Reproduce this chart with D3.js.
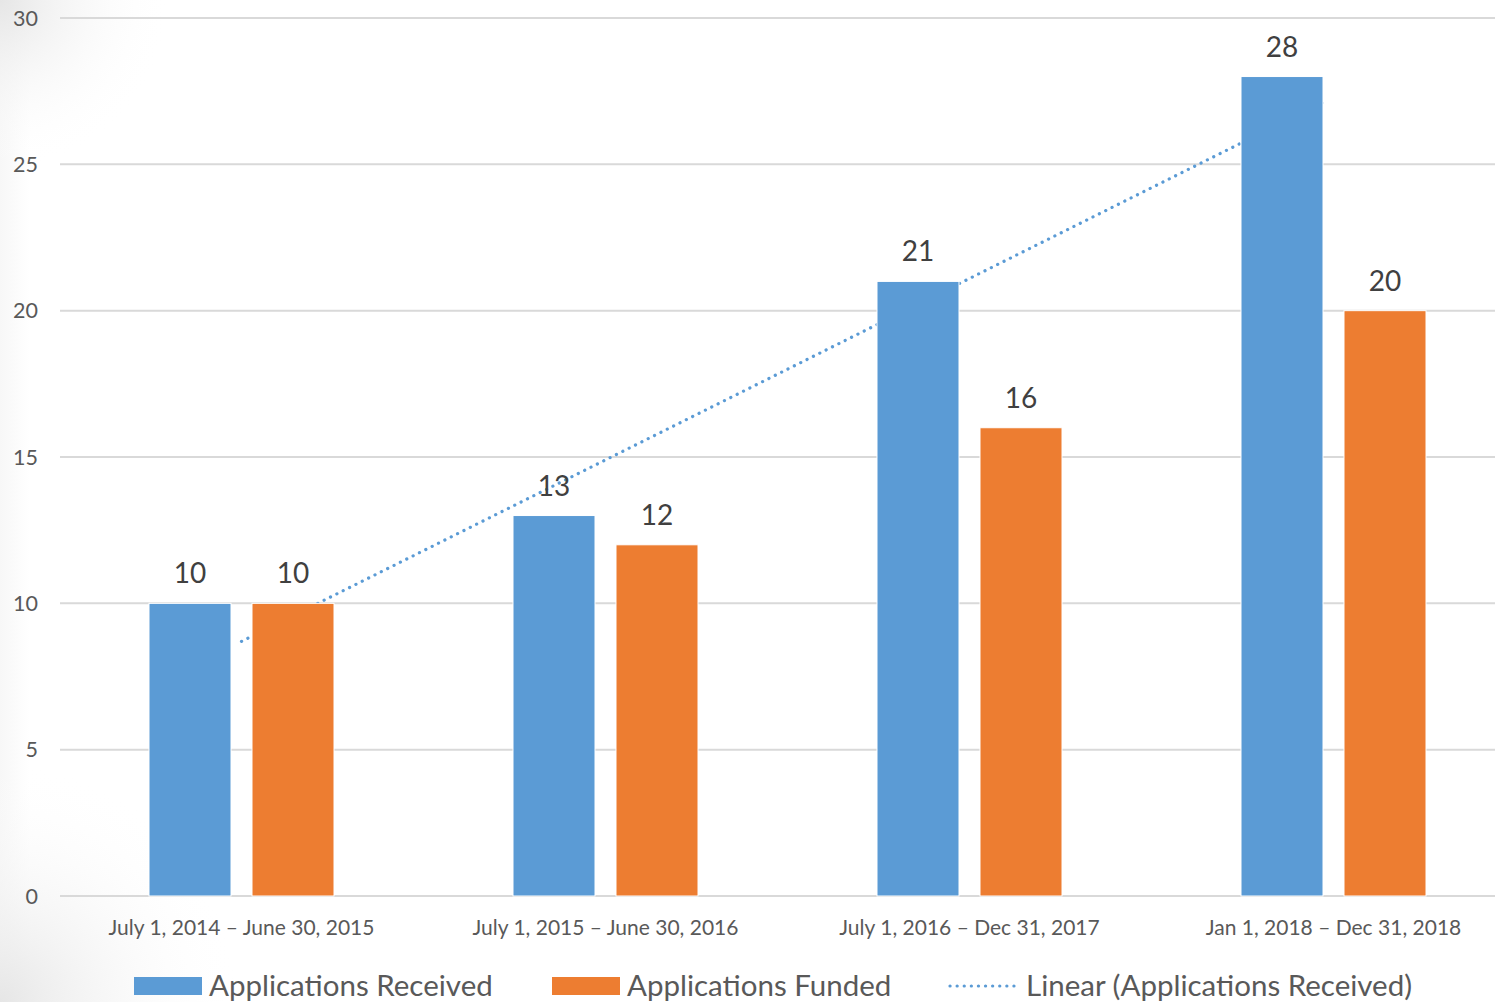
<!DOCTYPE html>
<html>
<head>
<meta charset="utf-8">
<script src="https://cdn.jsdelivr.net/npm/d3@7"></script>
<style>
  body { margin: 0; background: #fff; }
  svg { display: block; font-family: Lato, "Open Sans", sans-serif; }
</style>
</head>
<body>
<div id="chart"></div>
<script>
var categories = ["July 1, 2014 \u2013 June 30, 2015", "July 1, 2015 \u2013 June 30, 2016",
                  "July 1, 2016 \u2013 Dec 31, 2017", "Jan 1, 2018 \u2013 Dec 31, 2018"];
var received = [10, 13, 21, 28];
var funded = [10, 12, 16, 20];
var seriesNames = ["Applications Received", "Applications Funded"];
var yTicks = [0, 5, 10, 15, 20, 25, 30];

var W = 1495, H = 1002;
var margin = {top: 18, left: 59.5, bottom: 106};
var plotRight = 1515.5; // plot runs past the picture edge

var svg = d3.select("#chart").append("svg").attr("width", W).attr("height", H);

// faint grey shading in the left corners
var defs = svg.append("defs");
function corner(id, cy, r) {
  var g = defs.append("radialGradient").attr("id", id).attr("gradientUnits", "userSpaceOnUse")
      .attr("cx", 0).attr("cy", cy).attr("r", r);
  g.append("stop").attr("offset", "0").attr("stop-color", "#e6e6e6").attr("stop-opacity", 1);
  g.append("stop").attr("offset", "1").attr("stop-color", "#ffffff").attr("stop-opacity", 0);
}
corner("tl", 0, 170);
corner("bl", H, 240);
var edge = defs.append("linearGradient").attr("id", "edge");
edge.append("stop").attr("offset", "0").attr("stop-color", "#f7f7f7");
edge.append("stop").attr("offset", "0.02").attr("stop-color", "#ffffff");
svg.append("rect").attr("width", W).attr("height", H).attr("fill", "url(#edge)");
svg.append("rect").attr("width", W).attr("height", H).attr("fill", "url(#tl)");
svg.append("rect").attr("width", W).attr("height", H).attr("fill", "url(#bl)");

var x = d3.scaleBand().domain(d3.range(categories.length)).range([margin.left, plotRight]);
var y = d3.scaleLinear().domain([0, 30]).range([H - margin.bottom, margin.top]);

// gridlines
svg.append("g").selectAll("line").data(yTicks).enter().append("line")
    .attr("x1", 60).attr("x2", W)
    .attr("y1", function(d) { return y(d); }).attr("y2", function(d) { return y(d); })
    .attr("stroke", "#d9d9d9").attr("stroke-width", 2);

// y tick labels
svg.append("g").selectAll("text").data(yTicks).enter().append("text")
    .attr("x", 38).attr("y", function(d) { return y(d); })
    .attr("dy", "0.36em").attr("text-anchor", "end")
    .attr("font-size", 21.5).attr("fill", "#595959")
    .text(function(d) { return d; });

// linear trend of received (least squares over 1..n)
var xs = d3.range(1, received.length + 1);
var mx = d3.mean(xs), my = d3.mean(received);
var slope = d3.sum(xs, function(v, i) { return (v - mx) * (received[i] - my); }) /
            d3.sum(xs, function(v) { return (v - mx) * (v - mx); });
var icpt = my - slope * mx;
svg.append("line")
    .attr("x1", x(0) + x.bandwidth() / 2).attr("y1", y(icpt + slope * 1))
    .attr("x2", x(3) + x.bandwidth() / 2 - 6).attr("y2", y(icpt + slope * (4 - 6 / x.bandwidth())))
    .attr("stroke", "#5b9bd5").attr("stroke-width", 3.2)
    .attr("stroke-dasharray", "0.1 7").attr("stroke-linecap", "round");

// bars
var barW = 82, gap = 21;
var groups = svg.append("g").selectAll("g").data(categories).enter().append("g")
    .attr("transform", function(d, i) { return "translate(" + (x(i) + x.bandwidth() / 2) + ",0)"; });

groups.append("rect")
    .attr("x", -barW - gap / 2).attr("width", barW)
    .attr("y", function(d, i) { return y(received[i]); })
    .attr("height", function(d, i) { return y(0) - y(received[i]); })
    .attr("fill", "#5b9bd5").attr("stroke", "#ffffff").attr("stroke-width", 1);
groups.append("rect")
    .attr("x", gap / 2).attr("width", barW)
    .attr("y", function(d, i) { return y(funded[i]); })
    .attr("height", function(d, i) { return y(0) - y(funded[i]); })
    .attr("fill", "#ed7d31").attr("stroke", "#ffffff").attr("stroke-width", 1);

// data labels
groups.append("text")
    .attr("x", -barW / 2 - gap / 2).attr("y", function(d, i) { return y(received[i]) - 20; })
    .attr("text-anchor", "middle").attr("font-size", 28).attr("fill", "#404040")
    .text(function(d, i) { return received[i]; });
groups.append("text")
    .attr("x", barW / 2 + gap / 2).attr("y", function(d, i) { return y(funded[i]) - 20; })
    .attr("text-anchor", "middle").attr("font-size", 28).attr("fill", "#404040")
    .text(function(d, i) { return funded[i]; });

// category labels
groups.append("text")
    .attr("x", 0).attr("y", 935)
    .attr("text-anchor", "middle").attr("font-size", 21).attr("fill", "#595959")
    .text(function(d) { return d; });

// legend
var leg = svg.append("g").attr("font-size", 29.5).attr("fill", "#595959");
leg.append("rect").attr("x", 134).attr("y", 977).attr("width", 68).attr("height", 18).attr("fill", "#5b9bd5");
leg.append("text").attr("x", 209).attr("y", 996).text(seriesNames[0]);
leg.append("rect").attr("x", 552).attr("y", 977).attr("width", 68).attr("height", 18).attr("fill", "#ed7d31");
leg.append("text").attr("x", 627).attr("y", 996).text(seriesNames[1]);
leg.append("line").attr("x1", 950).attr("x2", 1014).attr("y1", 986).attr("y2", 986)
    .attr("stroke", "#5b9bd5").attr("stroke-width", 3.2)
    .attr("stroke-dasharray", "0.1 7").attr("stroke-linecap", "round");
leg.append("text").attr("x", 1026).attr("y", 996).text("Linear (" + seriesNames[0] + ")");
</script>
</body>
</html>
